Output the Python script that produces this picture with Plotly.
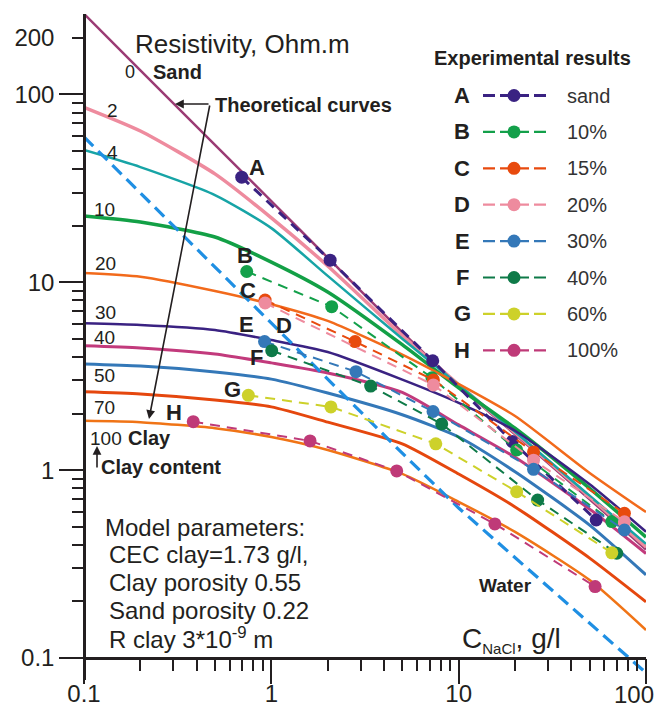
import math
import plotly.graph_objects as go

# ---------------- data ----------------
conc = [0.1, 0.2, 0.5, 1, 2, 5, 10, 20, 50, 100]   # C NaCl, g/l
clay_levels = [0, 2, 4, 10, 20, 30, 40, 50, 70, 100]

rho_0 = [268, 134, 53.8, 27.0, 13.5, 5.42, 2.82, 1.55, 0.70, 0.378]
rho_2 = [85.3, 63.8, 37.7, 22.0, 12.2, 5.2, 2.85, 1.58, 0.72, 0.39]
rho_4 = [50.5, 41.0, 29.1, 19.4, 10.8, 5.0, 2.84, 1.60, 0.73, 0.405]
rho_10 = [22.5, 20.9, 17.4, 12.8, 8.87, 4.65, 2.74, 1.67, 0.80, 0.44]
rho_20 = [11.2, 10.7, 8.98, 7.63, 6.22, 4.12, 2.87, 1.94, 0.966, 0.598]
rho_30 = [6.04, 5.92, 5.57, 4.92, 4.25, 3.03, 2.28, 1.62, 0.84, 0.47]
rho_40 = [4.59, 4.47, 4.15, 3.72, 3.29, 2.59, 1.74, 1.17, 0.62, 0.36]
rho_50 = [3.67, 3.58, 3.33, 3.05, 2.57, 1.97, 1.50, 0.98, 0.51, 0.277]
rho_70 = [2.61, 2.54, 2.36, 2.17, 1.80, 1.38, 0.953, 0.637, 0.340, 0.199]
rho_100 = [1.83, 1.80, 1.67, 1.50, 1.28, 0.954, 0.678, 0.469, 0.260, 0.141]
rho_water = [59.3, 29.8, 12.0, 6.05, 3.05, 1.23, 0.628, 0.342, 0.153, 0.0834]

theory_colors = ["#9B3B74", "#EE8B9E", "#17A4A6", "#13A046", "#F26A1B",
                 "#3A2282", "#C23A7C", "#3478B8", "#E5470E", "#F07416"]
theory_widths = [2.5, 3.5, 2.5, 3.5, 2.5, 2.5, 3, 3, 3, 2.5]
water_color = "#1F8FE3"

exp_letters = ["A", "B", "C", "D", "E", "F", "G", "H"]
exp_names = ["sand", "10%", "15%", "20%", "30%", "40%", "60%", "100%"]
exp_colors = ["#3A2282", "#13A04A", "#E84A0E", "#EE8B9E", "#3478B8",
              "#0E7A48", "#CDD12A", "#BF3A78"]

A_c = [0.695, 2.06, 7.27, 19.3, 54.2]
A_r = [36.2, 13.1, 3.82, 1.42, 0.543]
B_c = [0.739, 2.10, 7.2, 20.4, 65.7]
B_r = [11.4, 7.41, 3.1, 1.28, 0.532]
C_c = [0.926, 2.80, 7.33, 25.1, 76.7]
C_r = [8.04, 4.83, 3.02, 1.25, 0.589]
D_c = [0.926, 7.33, 25.1, 76.7]
D_r = [7.75, 2.84, 1.13, 0.531]
E_c = [0.920, 2.83, 7.3, 25.1, 76.7]
E_r = [4.83, 3.34, 2.05, 1.01, 0.48]
F_c = [1.005, 3.39, 8.12, 26.4, 69.8]
F_r = [4.32, 2.80, 1.76, 0.693, 0.361]
G_c = [0.754, 2.08, 7.55, 20.4, 65.7]
G_r = [2.50, 2.17, 1.38, 0.768, 0.363]
H_c = [0.383, 1.61, 4.67, 15.6, 53.5]
H_r = [1.81, 1.43, 0.99, 0.517, 0.240]

x_major = [0.1, 1, 10, 100]
x_labels = ["0.1", "1", "10", "100"]
y_major = [0.1, 1, 10, 100]
y_labels = ["0.1", "1", "10", "100", "200"]

# ---------------- layout geometry ----------------
W, H = 656, 704
L, R, T, B = 84, 10, 14, 24
PX_DEC_Y = 187.9
Y_AT_01 = 658.0                       # pixel row of rho = 0.1
ytop = -1 + (Y_AT_01 - T) / PX_DEC_Y
ybot = -1 + (Y_AT_01 - (H - B)) / PX_DEC_Y
xaxis_pos = (-1 - ybot) / (ytop - ybot)

FONT = "Liberation Sans, Arial, sans-serif"
INK = "#231F20"

theory_rhos = [rho_0, rho_2, rho_4, rho_10, rho_20, rho_30, rho_40, rho_50, rho_70, rho_100]
exp_c = [A_c, B_c, C_c, D_c, E_c, F_c, G_c, H_c]
exp_r = [A_r, B_r, C_r, D_r, E_r, F_r, G_r, H_r]

fig = go.Figure()

for rho, col, w in zip(theory_rhos, theory_colors, theory_widths):
    fig.add_trace(go.Scatter(x=conc, y=rho, mode="lines",
                             line=dict(color=col, width=w, shape="spline", smoothing=0.6),
                             hoverinfo="skip"))

fig.add_trace(go.Scatter(x=conc, y=rho_water, mode="lines",
                         line=dict(color=water_color, width=3.2, dash="13px,7px"),
                         hoverinfo="skip"))

for i, (cc, rr, col) in enumerate(zip(exp_c, exp_r, exp_colors)):
    fig.add_trace(go.Scatter(x=cc, y=rr, mode="lines+markers",
                             line=dict(color=col, width=3 if i == 0 else 2,
                                       dash="10px,7px"),
                             marker=dict(color=col, size=13, opacity=1,
                                         line=dict(width=0)),
                             opacity=1, hoverinfo="skip"))

# minor tick values
x_minor = [m * 10 ** k for k in (-1, 0, 1) for m in range(2, 10)]
y_minor = [m * 10 ** k for k in (-1, 0, 1) for m in range(2, 10)] + [200]
y_all = sorted(set(y_major + y_minor))
y_text = []
for v in y_all:
    if v in y_major:
        y_text.append(y_labels[y_major.index(v)])
    elif v == 200:
        y_text.append("200")
    else:
        y_text.append("")
x_all = sorted(set(x_major + x_minor))
# the last label ("100") is drawn as an annotation so that it stays inside the page
x_text = [x_labels[x_major.index(v)] if (v in x_major and v != 100) else "" for v in x_all]

# legend samples (x2/y2 are pixel-like helper axes)
leg_y0, leg_dy = 95.5, 36.4
for i, col in enumerate(exp_colors):
    yy = leg_y0 + i * leg_dy
    fig.add_trace(go.Scatter(x=[483, 514, 546], y=[yy, yy, yy], xaxis="x2", yaxis="y2",
                             mode="lines+markers",
                             line=dict(color=col, width=3 if i == 0 else 2.2,
                                       dash="12px,5px"),
                             marker=dict(color=col, size=[0, 13, 0], opacity=1,
                                         line=dict(width=0)),
                             hoverinfo="skip"))

# trace anchoring the major tick overlay axes
fig.add_trace(go.Scatter(x=[1], y=[1], xaxis="x3", yaxis="y3", mode="markers",
                         marker=dict(opacity=0), hoverinfo="skip"))

ann = []


def txt(x, y, s, size, anchor="center", color=INK):
    ann.append(dict(x=x, y=y, xref="x2", yref="y2", text=s, showarrow=False,
                    xanchor=anchor, yanchor="middle",
                    font=dict(family=FONT, size=size, color=color)))


def arrow(x, y, ax, ay):
    ann.append(dict(x=x, y=y, ax=ax, ay=ay, xref="x2", yref="y2", axref="x2",
                    ayref="y2", text="", showarrow=True, arrowhead=2,
                    arrowsize=1.1, arrowwidth=1.6, arrowcolor=INK, standoff=0))


txt(133, 44, "Resistivity, Ohm.m", 26, "left")
txt(130, 72, "0", 18)
txt(151, 72, "<b>Sand</b>", 20, "left")
txt(213, 105, "<b>Theoretical curves</b>", 20, "left")
arrow(175, 104, 210, 104)
arrow(149, 419, 210, 104)

for lab, (lx, ly) in zip(["2", "4", "10", "20", "30", "40", "50", "70", "100"],
                         [(112, 110), (112, 152), (104, 209), (105, 263), (105, 312),
                          (104, 337), (104, 375), (104, 407), (106, 438)]):
    txt(lx, ly, lab, 19)
txt(126, 438, "<b>Clay</b>", 20, "left")
arrow(97, 446, 97, 469)
txt(99, 467, "<b>Clay content</b>", 20, "left")

for lab, (lx, ly) in zip(exp_letters,
                         [(257, 167), (245, 255), (248, 290), (284, 325), (246, 324),
                          (256, 357), (232, 389), (174, 412)]):
    txt(lx, ly, "<b>%s</b>" % lab, 22)

txt(532, 58, "<b>Experimental results</b>", 20)
for i, (lab, name) in enumerate(zip(exp_letters, exp_names)):
    yy = leg_y0 + i * leg_dy
    txt(462, yy, "<b>%s</b>" % lab, 22)
    txt(565, yy, name, 20, "left", "#333333")

txt(505, 585, "<b>Water</b>", 19)
txt(460, 640, 'C<sub><span style="font-size:15px">NaCl</span></sub>, g/l', 28, "left")

# "100" label of the x axis, kept inside the page (paper coordinates)
plot_w, plot_h = W - L - R, H - T - B
ann.append(dict(x=(656 - L) / plot_w, y=(H - B - 694) / plot_h, xref="paper", yref="paper",
                text=x_labels[-1], showarrow=False, xanchor="right", yanchor="middle",
                font=dict(family=FONT, size=24, color=INK)))

model_lines = ["Model parameters:", "CEC clay=1.73 g/l,", "Clay porosity 0.55",
               "Sand porosity 0.22", "R clay 3*10<sup>-9</sup> m"]
for i, s in enumerate(model_lines):
    txt(103 if i == 0 else 107, 527 + i * 27.8, s, 24, "left")

axis_common = dict(showgrid=False, zeroline=False, tickcolor=INK, tickwidth=2)

fig.update_layout(
    width=W, height=H,
    margin=dict(l=L, r=R, t=T, b=B, autoexpand=False),
    paper_bgcolor="white", plot_bgcolor="white",
    showlegend=False, hovermode=False,
    font=dict(family=FONT, color=INK),
    xaxis=dict(type="log", range=[-1, 2], anchor="free", position=xaxis_pos,
               tickmode="array", tickvals=x_all, ticktext=x_text,
               ticks="outside", ticklen=11, ticklabelstandoff=2,
               showline=True, linecolor=INK, linewidth=2.5,
               tickfont=dict(family=FONT, size=24, color=INK), **axis_common),
    yaxis=dict(type="log", range=[ybot, ytop], anchor="free", position=0,
               tickmode="array", tickvals=y_all, ticktext=y_text,
               ticks="outside", ticklen=11, ticklabelstandoff=13,
               showline=True, linecolor=INK, linewidth=2.5,
               tickfont=dict(family=FONT, size=24, color=INK), **axis_common),
    xaxis3=dict(type="log", range=[-1, 2], overlaying="x", anchor="free",
                position=xaxis_pos, tickmode="array", tickvals=x_major,
                ticks="outside", ticklen=25, showticklabels=False,
                showline=False, **axis_common),
    yaxis3=dict(type="log", range=[ybot, ytop], overlaying="y", anchor="free",
                position=0, tickmode="array", tickvals=y_major,
                ticks="outside", ticklen=25, showticklabels=False,
                showline=False, **axis_common),
    xaxis2=dict(range=[L, W - R], overlaying="x", anchor="y2", visible=False),
    yaxis2=dict(range=[H - B, T], overlaying="y", anchor="x2", visible=False),
    annotations=ann,
)

fig.write_html("out.html")
